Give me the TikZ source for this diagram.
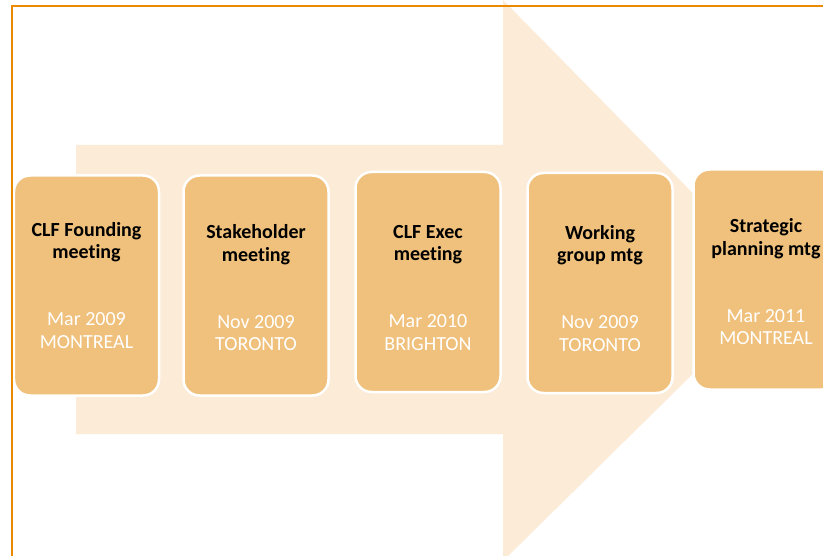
\documentclass[tikz,border=0pt]{standalone}
\usepackage{fontspec}
\setmainfont[Ligatures=NoCommon]{Carlito}
\definecolor{framecol}{RGB}{233,138,0}
\definecolor{arrowfill}{RGB}{251,235,215}
\definecolor{boxfill}{RGB}{240,193,124}
% two title lines in bold black, two date/place lines in white
\newcommand\eventtext[4]{\textbf{#1}\\\textbf{#2}\\[44.5bp]\textcolor{white}{#3}\\\textcolor{white}{#4}}
\begin{document}
\begin{tikzpicture}[x=1bp,y=-1bp,
  eventbox/.style={draw=white, line width=2.5bp, fill=boxfill, rounded corners=16bp,
    minimum width=145bp, minimum height=220bp, inner sep=0pt},
  eventlabel/.style={inner sep=0pt, align=center,
    font=\fontsize{20bp}{22.5bp}\selectfont, text=black}]
  \useasboundingbox (0,0) rectangle (823,556);
  \clip (0,0) rectangle (823,556);
  \fill[white] (0,0) rectangle (823,556);
  % large background arrow
  \fill[arrowfill] (76,145) -- (503,145) -- (503,0) -- (783,285) -- (503,561)
    -- (503,434) -- (76,434) -- cycle;
  % timeline events
  \node[eventbox] (e1) at (86.5,285.5) {};
  \node[eventbox] (e2) at (256,285.5) {};
  \node[eventbox] (e3) at (428,282) {};
  \node[eventbox] (e4) at (600,283) {};
  \node[eventbox] (e5) at (766,279.5) {};
  \node[eventlabel] (t1) at (86.5,285.5) {\eventtext{CLF Founding}{meeting}{Mar 2009}{MONTREAL}};
  \node[eventlabel] (t2) at (256,288) {\eventtext{Stakeholder}{meeting}{Nov 2009}{TORONTO}};
  \node[eventlabel] (t3) at (428,288) {\eventtext{CLF Exec}{meeting}{Mar 2010}{BRIGHTON}};
  \node[eventlabel] (t4) at (600,288.5) {\eventtext{Working}{group mtg}{Nov 2009}{TORONTO}};
  \node[eventlabel] (t5) at (766,282) {\eventtext{Strategic}{planning mtg}{Mar 2011}{MONTREAL}};
  % frame
  \draw[framecol, line width=1.6bp] (12,600) -- (12,6) -- (900,6);
\end{tikzpicture}
\end{document}
